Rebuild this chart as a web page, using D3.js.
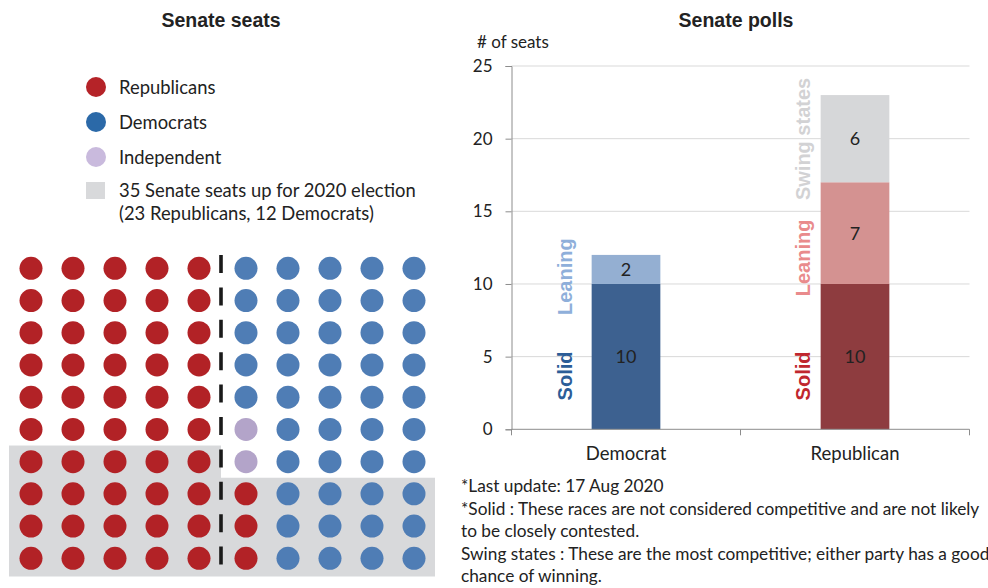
<!DOCTYPE html>
<html>
<head>
<meta charset="utf-8">
<script src="https://cdn.jsdelivr.net/npm/d3@7"></script>
<style>
  html, body { margin: 0; padding: 0; background: #ffffff; }
  svg { display: block; }
  .body-text { font-family: Lato, "Open Sans", sans-serif; fill: #222; }
  .title { font-family: "Liberation Sans", Arial, sans-serif; font-weight: bold; fill: #222; }
</style>
</head>
<body>
<svg id="chart" width="988" height="588"></svg>
<script>
// ---- Senate composition (one letter per seat: R = Republican, D = Democrat, I = Independent)
const seatGrid = [
  "RRRRRDDDDD",
  "RRRRRDDDDD",
  "RRRRRDDDDD",
  "RRRRRDDDDD",
  "RRRRRDDDDD",
  "RRRRRIDDDD",
  "RRRRRIDDDD",
  "RRRRRRDDDD",
  "RRRRRRDDDD",
  "RRRRRRDDDD"
];
// first row of each half (left, right) whose seats are up for election
const contestedFromRow = [6, 7];

const legendLabels = ["Republicans", "Democrats", "Independent"];
const legendNote = ["35 Senate seats up for 2020 election", "(23 Republicans, 12 Democrats)"];

// ---- Senate polls
const categories = ["Democrat", "Republican"];
const solidSeats = [10, 10];
const leaningSeats = [2, 7];
const swingSeats = [0, 6];
const yTicks = [0, 5, 10, 15, 20, 25];

const footnotes = [
  "*Last update: 17 Aug 2020",
  "*Solid : These races are not considered competitive and are not likely",
  "to be closely contested.",
  "Swing states : These are the most competitive; either party has a good",
  "chance of winning."
];

const svg = d3.select("#chart");

// ================= Left panel: seat dots =================
const partyColor = { R: "#b22226", D: "#4f7db5", I: "#b3a4c9" };
const legendColor = ["#b52328", "#2b69a8", "#c9badd"];

svg.append("text").attr("class", "title")
  .attr("x", 221).attr("y", 27).attr("text-anchor", "middle")
  .attr("font-size", 19.5).text("Senate seats");

const legend = svg.append("g");
legendLabels.forEach((lab, i) => {
  const cy = 87 + i * 35;
  legend.append("circle").attr("cx", 96).attr("cy", cy).attr("r", 10).attr("fill", legendColor[i]);
  legend.append("text").attr("class", "body-text").attr("x", 119).attr("y", cy + 6.5)
    .attr("font-size", 18.4).text(lab);
});
legend.append("rect").attr("x", 86).attr("y", 182).attr("width", 19).attr("height", 17).attr("fill", "#d8d9db");
legendNote.forEach((t, i) => {
  legend.append("text").attr("class", "body-text").attr("x", 119).attr("y", 197 + i * 23)
    .attr("font-size", 18.4).text(t);
});

const rows = d3.range(seatGrid.length);
const rowScale = d3.scaleBand().domain(rows).range([252.2, 574.4]);
const leftCols = d3.scalePoint().domain(d3.range(5)).range([31, 199]);
const rightCols = d3.scalePoint().domain(d3.range(5)).range([246, 414]);
const divideX = 221;

// shaded blocks for seats up for election
const shadeG = svg.append("g");
shadeG.append("rect")
  .attr("x", 9).attr("y", rowScale(contestedFromRow[0]))
  .attr("width", divideX - 9).attr("height", 576.5 - rowScale(contestedFromRow[0]))
  .attr("fill", "#d8d9db");
shadeG.append("rect")
  .attr("x", divideX).attr("y", rowScale(contestedFromRow[1]))
  .attr("width", 435 - divideX).attr("height", 576.5 - rowScale(contestedFromRow[1]))
  .attr("fill", "#d8d9db");

const seats = [];
seatGrid.forEach((row, r) => {
  row.split("").forEach((p, c) => {
    seats.push({ party: p, row: r, col: c });
  });
});

svg.append("g").selectAll("circle").data(seats).join("circle")
  .attr("cx", d => d.col < 5 ? leftCols(d.col) : rightCols(d.col - 5))
  .attr("cy", d => rowScale(d.row) + rowScale.bandwidth() / 2)
  .attr("r", 11.5)
  .attr("fill", d => partyColor[d.party]);

// majority divider
svg.append("line")
  .attr("x1", divideX).attr("x2", divideX)
  .attr("y1", 255).attr("y2", 578)
  .attr("stroke", "#1a1a1a").attr("stroke-width", 3.6)
  .attr("stroke-dasharray", "18,14.4");

// ================= Right panel: stacked bars =================
svg.append("text").attr("class", "title")
  .attr("x", 736).attr("y", 27).attr("text-anchor", "middle")
  .attr("font-size", 19.5).text("Senate polls");

const plotLeft = 511.5, plotRight = 969.5;
const x = d3.scaleBand().domain(categories).range([plotLeft, plotRight])
  .paddingInner(0.70).paddingOuter(0.35);
const y = d3.scaleLinear().domain([0, 25]).range([429.3, 66]);

const plot = svg.append("g");

// gridlines
plot.append("g").selectAll("line").data(yTicks.filter(t => t > 0)).join("line")
  .attr("x1", plotLeft).attr("x2", plotRight)
  .attr("y1", d => y(d)).attr("y2", d => y(d))
  .attr("stroke", "#d9d9d9").attr("stroke-width", 1);

// y axis
const yAxis = plot.append("g").attr("transform", `translate(${plotLeft},0)`)
  .call(d3.axisLeft(y).tickValues(yTicks).tickSize(6).tickPadding(13));
yAxis.select(".domain").attr("stroke", "#8c8c8c");
yAxis.selectAll(".tick line").attr("stroke", "#8c8c8c");
yAxis.selectAll(".tick text").attr("class", "body-text").attr("font-size", 17).attr("fill", "#222");

svg.append("text").attr("class", "body-text")
  .attr("x", 477).attr("y", 48).attr("font-size", 17).text("# of seats");

// stacked segments
const segColors = [
  ["#3d6190", "#94afd2", "#d6d7d9"],
  ["#8e3c3f", "#d49291", "#d6d7d9"]
];
const stackRows = categories.map((c, i) => ({
  cat: c, solid: solidSeats[i], leaning: leaningSeats[i], swing: swingSeats[i]
}));
const stack = d3.stack().keys(["solid", "leaning", "swing"])(stackRows);

stack.forEach((layer, li) => {
  layer.forEach((seg, ci) => {
    const v = seg[1] - seg[0];
    if (v <= 0) return;
    plot.append("rect")
      .attr("x", x(categories[ci])).attr("width", x.bandwidth())
      .attr("y", y(seg[1])).attr("height", y(seg[0]) - y(seg[1]))
      .attr("fill", segColors[ci][li]);
    plot.append("text").attr("class", "body-text")
      .attr("x", x(categories[ci]) + x.bandwidth() / 2)
      .attr("y", y((seg[0] + seg[1]) / 2) + 6.5)
      .attr("text-anchor", "middle").attr("font-size", 18)
      .text(v);
  });
});

// x axis with ticks between categories
const xAxisY = y(0);
plot.append("line").attr("x1", plotLeft).attr("x2", plotRight).attr("y1", xAxisY).attr("y2", xAxisY)
  .attr("stroke", "#8c8c8c");
const boundaries = [plotLeft, x(categories[0]) + x.bandwidth() / 2 + x.step() / 2, plotRight];
plot.append("g").selectAll("line").data(boundaries).join("line")
  .attr("x1", d => d).attr("x2", d => d)
  .attr("y1", xAxisY).attr("y2", xAxisY + 6)
  .attr("stroke", "#8c8c8c");
const xAxis = plot.append("g").attr("transform", `translate(0,${xAxisY})`)
  .call(d3.axisBottom(x).tickSize(0).tickPadding(18));
xAxis.select(".domain").remove();
xAxis.selectAll(".tick text").attr("class", "body-text").attr("font-size", 18.5).attr("fill", "#222");

// rotated segment labels beside the bars
const sideLabels = [
  { cat: "Democrat", text: "Solid", at: 3.67, gap: 27, color: "#2c5d97" },
  { cat: "Democrat", text: "Leaning", at: 10.5, gap: 27, color: "#8fafda" },
  { cat: "Republican", text: "Solid", at: 3.67, gap: 18, color: "#c0272e" },
  { cat: "Republican", text: "Leaning", at: 11.79, gap: 18, color: "#e98b8c" },
  { cat: "Republican", text: "Swing states", at: 19.98, gap: 18, color: "#d2d2d4" }
];
sideLabels.forEach(d => {
  const lx = x(d.cat) - d.gap;
  const ly = y(d.at);
  svg.append("text")
    .attr("transform", `translate(${lx},${ly}) rotate(-90)`)
    .attr("text-anchor", "middle").attr("dy", "0.35em")
    .attr("font-family", "'Liberation Sans', Arial, sans-serif")
    .attr("font-weight", "bold").attr("font-size", 20)
    .attr("fill", d.color).text(d.text);
});

// footnotes
footnotes.forEach((t, i) => {
  svg.append("text").attr("class", "body-text")
    .attr("x", 461).attr("y", 492 + i * 22.5)
    .attr("font-size", 17.25).text(t);
});
</script>
</body>
</html>
